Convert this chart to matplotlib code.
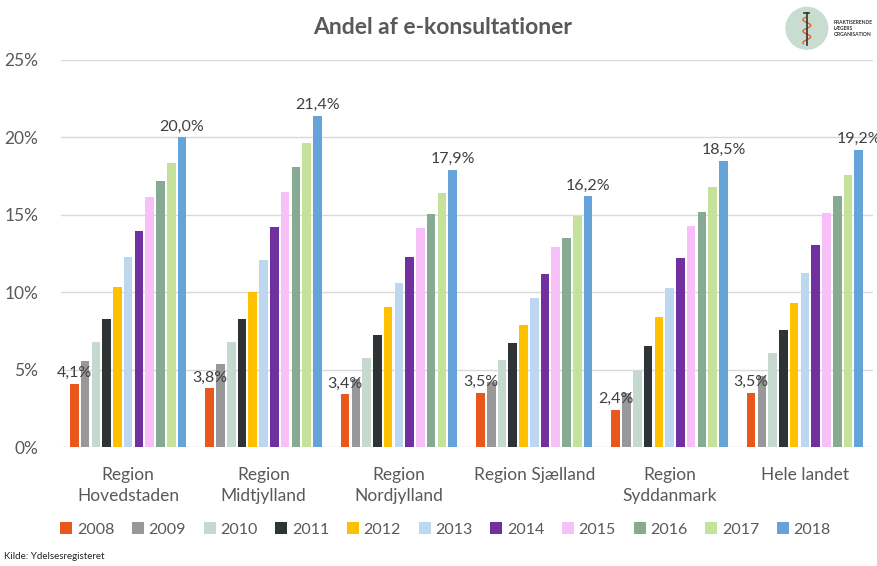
import matplotlib
matplotlib.use("Agg")
import matplotlib.pyplot as plt
from matplotlib.patches import Circle
import numpy as np

# data
regions = ["Region\nHovedstaden", "Region\nMidtjylland", "Region\nNordjylland",
           "Region Sjælland", "Region\nSyddanmark", "Hele landet"]
years = ["2008", "2009", "2010", "2011", "2012", "2013",
         "2014", "2015", "2016", "2017", "2018"]
hovedstaden = [4.1, 5.55, 6.8, 8.25, 10.35, 12.25, 13.95, 16.15, 17.2, 18.35, 20.0]
midtjylland = [3.8, 5.35, 6.8, 8.25, 10.0, 12.1, 14.2, 16.5, 18.1, 19.65, 21.4]
nordjylland = [3.4, 4.4, 5.75, 7.25, 9.05, 10.6, 12.3, 14.15, 15.05, 16.4, 17.9]
sjaelland = [3.5, 4.2, 5.6, 6.75, 7.9, 9.65, 11.2, 12.9, 13.5, 14.9, 16.2]
syddanmark = [2.4, 3.5, 4.9, 6.5, 8.4, 10.3, 12.2, 14.25, 15.2, 16.8, 18.5]
hele_landet = [3.5, 4.6, 6.05, 7.55, 9.3, 11.25, 13.05, 15.1, 16.2, 17.6, 19.2]
colors = ["#E8581C", "#989898", "#C5D9CE", "#2E3436", "#FFC000", "#BDD7EE",
          "#7030A0", "#F8C0F8", "#86AB92", "#C5E29A", "#66A3D8"]

values = np.array([hovedstaden, midtjylland, nordjylland, sjaelland, syddanmark, hele_landet])

plt.rcParams['font.family'] = ['Lato', 'DejaVu Sans']
txt = "#595959"

fig = plt.figure(figsize=(8.77, 5.66), dpi=100)
ax = fig.add_axes([0.069, 0.210, 0.926, 0.684])

x = np.arange(len(regions))
step = 0.0795
for i, yr in enumerate(years):
    off = (i - 5) * step
    ax.bar(x + off, values[:, i], width=step * 0.8, color=colors[i], label=yr, zorder=3)

# labels on first and last year
for j in range(len(regions)):
    for i in (0, 10):
        v = values[j, i]
        ax.text(x[j] + (i - 5) * step, v + 0.25, f"{v:.1f}%".replace(".", ","),
                ha="center", va="bottom", fontsize=11.5, color="#404040", zorder=4)

ax.set_xlim(-0.5, 5.5)
ax.set_ylim(0, 25)
ax.set_yticks(range(0, 26, 5))
ax.set_yticklabels([f"{t}%" for t in range(0, 26, 5)], fontsize=12.5, color=txt)
ax.set_xticks(x)
ax.set_xticklabels(regions, fontsize=12.5, color=txt, va="top", linespacing=1.45)
ax.tick_params(axis="y", length=0, pad=16)
ax.tick_params(axis="x", length=0, pad=14)
ax.grid(axis="y", color="#D9D9D9", linewidth=1, zorder=0)
for s in ax.spines.values():
    s.set_visible(False)

ax.legend(loc="center", bbox_to_anchor=(0.474, -0.213), ncol=11, frameon=False,
          fontsize=11.5, labelcolor=txt, handlelength=0.75, handleheight=0.75,
          handletextpad=0.3, columnspacing=1.1)

fig.text(0.505, 0.951, "Andel af e-konsultationer", ha="center", va="center",
         fontsize=16.5, fontweight="bold", color=txt)
fig.text(0.004, 0.008, "Kilde: Ydelsesregisteret", ha="left", va="bottom",
         fontsize=7, color="#222222")

# logo
lax = fig.add_axes([0.895, 0.905, 0.05, 0.09])
lax.set_xlim(-1, 1)
lax.set_ylim(-1, 1)
lax.set_aspect("equal")
lax.axis("off")
lax.add_patch(Circle((0, 0), 0.95, color="#C8DCD0"))
t = np.linspace(-0.7, 0.5, 60)
lax.plot(0.18 * np.sin(t * 12), t, color="#E8581C", lw=0.9)
lax.plot([0, 0], [-0.75, 0.7], color="#333333", lw=1.2)
lax.plot([-0.12, 0.12], [0.7, 0.7], color="#333333", lw=1.2)
fig.text(0.951, 0.95, "PRAKTISERENDE\nLÆGERS\nORGANISATION", ha="left", va="center",
         fontsize=3.6, fontweight="bold", color="#333333", linespacing=1.3)

fig.savefig("out.png", dpi=100)
